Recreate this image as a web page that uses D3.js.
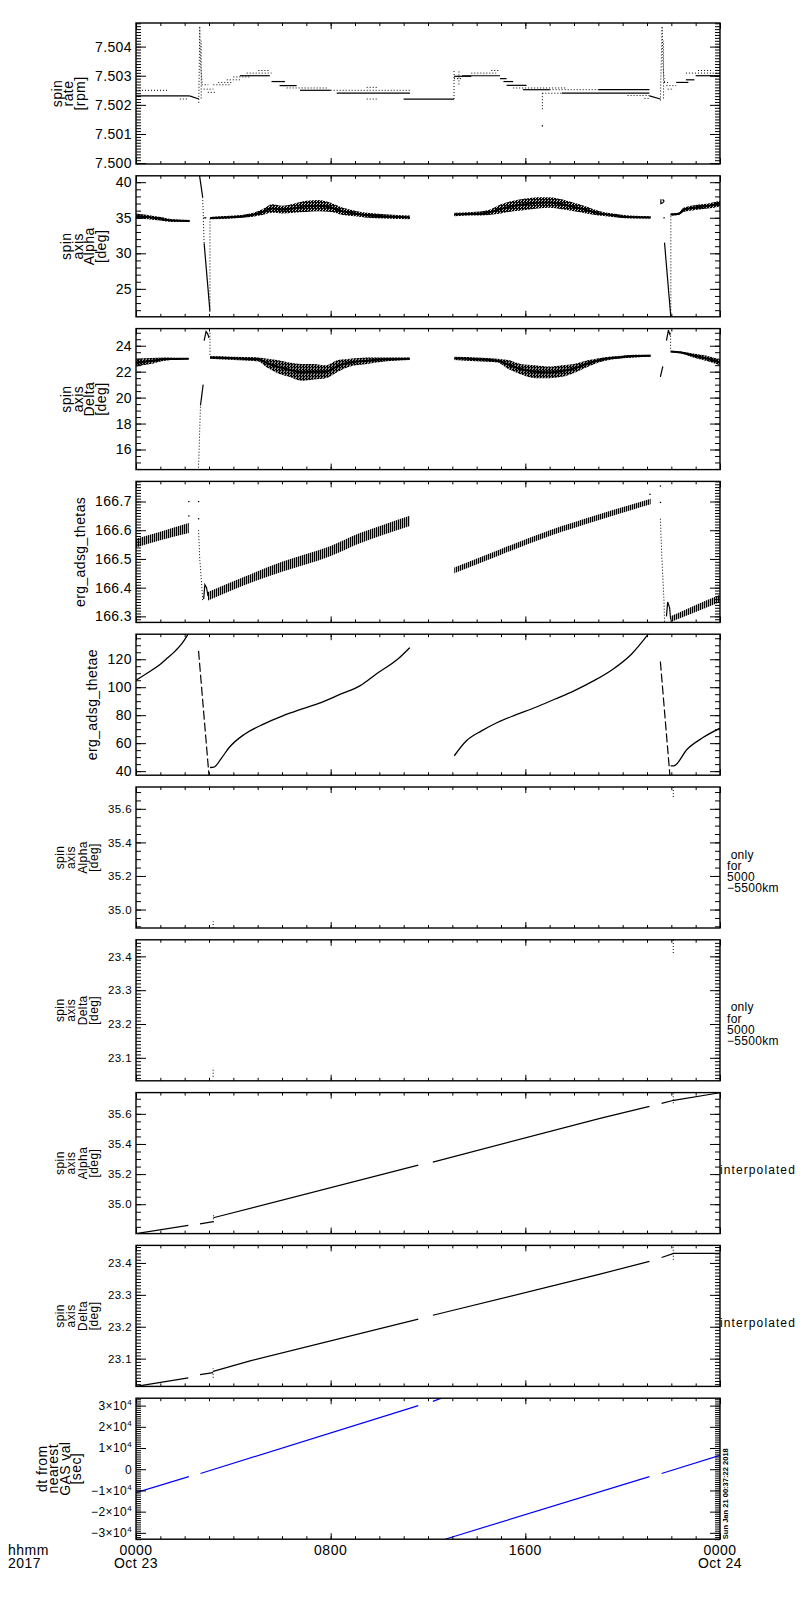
<!DOCTYPE html>
<html>
<head>
<meta charset="utf-8">
<script src="https://cdn.jsdelivr.net/npm/d3@7"></script>
<style>
body{margin:0;background:#fff}
svg{display:block}
text{font-family:"Liberation Sans",Arial,sans-serif;fill:#000}
</style>
</head>
<body>
<svg width="800" height="1600"></svg>
<script>

// ---- axis setup, one entry per panel (top to bottom) ----
var hourRange = [0, 24];
var yDomains = [[7.49997, 7.50481], [21.07, 40.9], [14.45, 25.32], [166.279, 166.770], [37.1, 137.9],
                [34.89, 35.73], [23.032, 23.449], [34.805, 35.741], [23.013, 23.455], [-33000, 33500]];
var majorSteps = [0.001, 5, 2, 0.1, 20, 0.2, 0.1, 0.2, 0.1, 10000];
var minorSteps = [0.0001, 1, 0.5, 0.01, 5, 0.05, 0.01, 0.05, 0.01, 1000];
var tickDecimals = [3, 0, 0, 1, 0, 1, 1, 1, 1, -1];
var yTitles = [["spin", "rate", "[rpm]"], ["spin", "axis", "Alpha", "[deg]"], ["spin", "axis", "Delta", "[deg]"],
               ["erg_adsg_thetas"], ["erg_adsg_thetae"], ["spin", "axis", "Alpha", "[deg]"], ["spin", "axis", "Delta", "[deg]"],
               ["spin", "axis", "Alpha", "[deg]"], ["spin", "axis", "Delta", "[deg]"], ["dt from", "nearest", "GAS val", "[sec]"]];
var sideNotes = [null, null, null, null, null, ["\u00a0only", "for", "5000", "\u22125500km"], ["\u00a0only", "for", "5000", "\u22125500km"],
                 ["interpolated"], ["interpolated"], null];
var minorHours = d3.range(0, 25, 1);
var majorHours = [0, 8, 16, 24];
var hourLabels = ["0000", "0800", "1600", "0000"];
var dayLabels = ["Oct 23", "", "", "Oct 24"];
var stampText = "Sun Jan 21 00:37:22 2018";

// ---- panel 1: spin rate, flat steps [t0, t1, value] ----
var rateSolid = [[0, 2.2, 7.50231], [4.27, 5.5, 7.50300], [5.57, 6.12, 7.50280], [5.9, 6.6, 7.50266], [6.74, 8.0, 7.50250],
  [8.25, 11.26, 7.50240], [11.0, 13.07, 7.50220], [13.07, 13.78, 7.50298], [13.4, 14.96, 7.50300], [14.96, 15.23, 7.50290],
  [15.1, 15.5, 7.50280], [15.23, 16.05, 7.50267], [15.9, 17.0, 7.50252], [19.0, 21.1, 7.50252], [17.5, 21.1, 7.50240],
  [22.2, 22.7, 7.50277], [22.6, 22.95, 7.50286], [23.0, 24, 7.50300]];
var rateDotted = [[0, 1.36, 7.50250], [1.8, 2.1, 7.50220], [2.7, 2.97, 7.50269], [2.78, 3.18, 7.50254], [2.95, 3.3, 7.50243],
  [3.18, 3.86, 7.50269], [3.38, 4.0, 7.50277], [3.73, 4.27, 7.50286], [4.0, 4.69, 7.50296], [4.55, 5.57, 7.50309],
  [5.03, 5.5, 7.50318], [6.19, 7.9, 7.50258], [8.0, 11.26, 7.50250], [9.48, 9.9, 7.50260], [9.48, 9.95, 7.50220],
  [13.07, 13.4, 7.50290], [13.78, 14.8, 7.50309], [14.6, 14.96, 7.50318], [15.5, 17.7, 7.50258], [17.0, 19.0, 7.50252],
  [16.7, 17.5, 7.50240], [20.2, 21.1, 7.50232], [20.9, 21.1, 7.50222], [21.7, 21.9, 7.50277], [21.8, 22.2, 7.50266],
  [21.85, 22.1, 7.50254], [22.6, 23.7, 7.50309], [23.1, 23.7, 7.50318], [23.7, 24, 7.50309]];
var rateSlopes = [[[2.2, 7.50231], [2.58, 7.50220]], [[21.1, 7.50231], [21.55, 7.50220]]];
var rateSpikes = [[[2.58, 7.50207], [2.62, 7.50470], [2.66, 7.50330], [2.72, 7.50275]], [[2.68, 7.50222], [2.68, 7.50420]],
  [[13.07, 7.50220], [13.07, 7.50318]], [[13.27, 7.50270], [13.27, 7.50318]], [[16.7, 7.50240], [16.7, 7.50183]],
  [[21.55, 7.50215], [21.62, 7.50470], [21.66, 7.50330], [21.72, 7.50275]], [[21.68, 7.50222], [21.68, 7.50420]]];
var rateDots = [[16.7, 7.50128]];

// ---- panel 2: spin axis alpha, scatter bands [t, low, high] ----
var alphaBands = [
  [[0, 34.9, 35.6], [0.5, 34.8, 35.4], [1.0, 34.6, 35.1], [1.5, 34.4, 34.8], [2.2, 34.4, 34.7]],
  [[3.05, 34.8, 35.1], [4.0, 34.9, 35.3], [4.7, 35.1, 35.6], [5.2, 35.4, 36.2], [5.6, 35.7, 36.9], [6.0, 35.6, 36.7],
   [6.5, 35.7, 37.0], [7.0, 35.8, 37.4], [7.5, 35.9, 37.5], [8.0, 35.8, 37.1], [8.5, 35.4, 36.4], [9.0, 35.2, 36.0],
   [9.5, 35.0, 35.7], [10.2, 34.9, 35.5], [11.26, 34.8, 35.3]],
  [[13.07, 35.2, 35.7], [13.8, 35.3, 35.8], [14.5, 35.4, 36.1], [15.0, 35.6, 36.9], [15.5, 35.9, 37.4], [16.0, 36.1, 37.7],
   [16.5, 36.3, 37.9], [17.0, 36.4, 37.9], [17.5, 36.2, 37.6], [18.0, 35.9, 37.1], [18.5, 35.6, 36.6], [19.0, 35.3, 36.0],
   [19.6, 35.1, 35.6], [20.3, 34.9, 35.3], [21.15, 34.9, 35.2]],
  [[21.97, 35.3, 35.6], [22.3, 35.4, 35.7], [22.5, 35.8, 36.4], [23.0, 36.1, 36.8], [23.5, 36.3, 37.0], [24, 36.6, 37.4]]];
var alphaLines = [[[2.6, 41.2], [2.74, 37.9]], [[2.8, 31.4], [3.04, 21.8]], [[21.72, 31.5], [21.98, 21.0]],
  [[21.57, 37.6], [21.57, 37.0], [21.65, 37.1], [21.7, 37.35], [21.64, 37.6]]];
var alphaDotLines = [[[2.74, 37.9], [2.8, 31.4]], [[3.04, 34.9], [3.04, 22.2]], [[21.98, 35.2], [21.98, 21.1]]];
var alphaDots = [[2.8, 35.0], [2.86, 35.0], [21.7, 35.0]];

// ---- panel 3: spin axis delta ----
var deltaBands = [
  [[0, 22.4, 23.0], [0.6, 22.6, 23.05], [1.2, 22.85, 23.1], [2.17, 22.95, 23.05]],
  [[3.05, 23.0, 23.2], [4.0, 22.9, 23.15], [5.0, 22.8, 23.1], [5.4, 22.3, 23.0], [5.8, 21.9, 22.9], [6.3, 21.6, 22.7],
   [6.8, 21.3, 22.6], [7.3, 21.4, 22.6], [7.8, 21.5, 22.5], [8.3, 22.0, 22.9], [8.8, 22.4, 23.0], [9.5, 22.6, 23.1],
   [10.3, 22.8, 23.1], [11.25, 22.9, 23.1]],
  [[13.08, 22.9, 23.15], [14.0, 22.8, 23.1], [14.85, 22.7, 23.0], [15.3, 22.2, 22.9], [15.8, 21.8, 22.6], [16.4, 21.5, 22.5],
   [17.0, 21.5, 22.4], [17.5, 21.6, 22.5], [18.0, 21.9, 22.6], [18.6, 22.4, 22.9], [19.2, 22.8, 23.1], [19.8, 23.0, 23.2],
   [20.5, 23.1, 23.3], [21.15, 23.15, 23.3]],
  [[21.97, 23.5, 23.6], [22.4, 23.4, 23.55], [22.9, 23.1, 23.4], [23.5, 22.8, 23.2], [24, 22.5, 22.9]]];
var deltaLines = [[[2.65, 19.4], [2.76, 21.0]], [[2.8, 24.4], [2.88, 25.1], [2.95, 24.9], [3.0, 24.6]],
  [[21.55, 21.6], [21.65, 22.4]], [[21.8, 24.4], [21.88, 25.2], [21.95, 24.8]]];
var deltaDotLines = [[[2.57, 14.6], [2.65, 19.4]], [[3.04, 25.0], [3.04, 23.2]], [[21.97, 25.0], [21.97, 23.6]]];

// ---- panel 4: erg_adsg_thetas ----
var thetasBands = [
  [[0, 166.54, 166.57], [1.0, 166.565, 166.595], [2.17, 166.59, 166.625]],
  [[2.96, 166.355, 166.385], [4.5, 166.41, 166.44], [6.0, 166.455, 166.49], [8.0, 166.51, 166.545], [9.2, 166.555, 166.59],
   [10.2, 166.585, 166.62], [11.25, 166.615, 166.65]],
  [[13.08, 166.45, 166.47], [15, 166.515, 166.535], [17, 166.58, 166.60], [19, 166.635, 166.655], [21.15, 166.69, 166.71]],
  [[21.97, 166.28, 166.30], [23, 166.315, 166.34], [24, 166.35, 166.375]]];
var thetasLines = [[[2.78, 166.36], [2.83, 166.41], [2.9, 166.40], [2.96, 166.37]],
  [[21.8, 166.30], [21.85, 166.35], [21.93, 166.33], [21.97, 166.29]]];
var thetasDotLines = [[[2.57, 166.60], [2.62, 166.5], [2.72, 166.385], [2.74, 166.35]],
  [[21.55, 166.64], [21.6, 166.526], [21.7, 166.35], [21.72, 166.28]]];
var thetasDots = [[2.17, 166.70], [2.17, 166.65], [2.57, 166.70], [2.57, 166.64], [21.12, 166.725], [21.55, 166.754], [21.55, 166.697]];

// ---- panel 5: erg_adsg_thetae ----
var thetaeLines = [
  [[0, 105], [0.5, 110.5], [1.0, 116.4], [1.3, 121], [1.62, 126], [1.9, 131.5], [2.14, 137.9]],
  [[3.04, 42.6], [3.2, 42.8], [3.5, 49], [3.83, 56.9], [4.46, 66.4], [5.24, 73.6], [6.03, 79.5], [6.8, 84.3],
   [7.6, 89], [8.4, 95], [9.2, 101], [9.96, 110.5], [10.75, 120], [11.25, 128.3]],
  [[13.08, 51], [13.58, 61.7], [14.2, 68.8], [14.85, 74.8], [15.6, 80.2], [16.4, 85.5], [17.2, 91.4], [18, 97.4],
   [18.8, 104.5], [19.6, 112.9], [20.36, 123.6], [21.05, 137.9]],
  [[21.97, 43.8], [22.1, 43.8], [22.65, 55.7], [23.3, 64], [24, 70.7]]];
var thetaeDashLines = [[[2.57, 126], [2.96, 45], [3.0, 37.1]], [[21.55, 118.3], [21.94, 37.1]]];

// ---- panels 6, 7: values only for 5000-5500 km ----
var alphaShellMarks = [[[3.17, 34.89], [3.17, 34.93]], [[22.08, 35.67], [22.08, 35.73]]];
var deltaShellMarks = [[[3.17, 23.044], [3.17, 23.071]], [[22.08, 23.41], [22.08, 23.449]]];

// ---- panels 8, 9: interpolated ----
var alphaInterp = [[[0, 34.805], [2.15, 34.86]], [[2.63, 34.87], [3.18, 34.885]], [[3.18, 34.91], [11.6, 35.26]],
  [[12.2, 35.28], [19.07, 35.57], [21.1, 35.65]], [[21.6, 35.67], [22.1, 35.69], [24, 35.74]]];
var alphaInterpMarks = [[[3.18, 34.88], [3.18, 34.93]], [[22.08, 35.67], [22.08, 35.74]]];
var deltaInterp = [[[0, 23.013], [2.15, 23.04]], [[2.63, 23.05], [3.17, 23.056]], [[3.17, 23.06], [4.69, 23.093], [11.6, 23.224]],
  [[12.2, 23.236], [19.07, 23.365], [21.1, 23.405]], [[21.6, 23.417], [22.1, 23.43], [24, 23.43]]];
var deltaInterpMarks = [[[3.17, 23.04], [3.17, 23.07]], [[22.08, 23.41], [22.08, 23.45]]];

// ---- panel 10: dt from nearest GAS value (s) ----
var dtLines = [[[0, -11000], [2.17, -3500]], [[2.65, -2000], [11.6, 30000]], [[12.2, 32000], [12.55, 33500]],
  [[12.7, -33000], [21.1, -3500]], [[21.6, -2000], [24, 6500]]];

// what goes in each panel
var panelData = [
  {solid: rateSlopes.concat(rateSolid.map(flat)), dotted: rateSpikes.concat(rateDotted.map(flat)), dots: rateDots},
  {bands: alphaBands, solid: alphaLines, dotted: alphaDotLines, dots: alphaDots},
  {bands: deltaBands, solid: deltaLines, dotted: deltaDotLines},
  {hatch: thetasBands, solid: thetasLines, dotted: thetasDotLines, dots: thetasDots},
  {smooth: thetaeLines, dashed: thetaeDashLines},
  {dotted: alphaShellMarks},
  {dotted: deltaShellMarks},
  {solid: alphaInterp, dotted: alphaInterpMarks},
  {solid: deltaInterp, dotted: deltaInterpMarks},
  {solid: dtLines, color: "#0000ff"}
];

function flat(s) { return [[s[0], s[2]], [s[1], s[2]]]; }

function stepTicks(dom, step) {
  var lo = Math.min(dom[0], dom[1]), hi = Math.max(dom[0], dom[1]);
  return d3.range(Math.ceil(lo / step - 1e-6), Math.floor(hi / step + 1e-6) + 1).map(function(k){ return k * step; });
}

var svg = d3.select('svg');
svg.append('rect').attr('width', 800).attr('height', 1600).attr('fill', '#fff');
var defs = svg.append('defs');

// scatter texture: 3 of every 4 pixels dark, plus a sparse gap
var speck = defs.append('pattern').attr('id', 'speck').attr('width', 3).attr('height', 3).attr('patternUnits', 'userSpaceOnUse');
speck.append('rect').attr('width', 3).attr('height', 3).attr('fill', '#000');
speck.append('rect').attr('x', 1).attr('y', 1).attr('width', 1).attr('height', 1).attr('fill', '#fff');
speck.append('rect').attr('x', 2).attr('y', 0).attr('width', 1).attr('height', 1).attr('fill', '#fff');
var hatch = defs.append('pattern').attr('id', 'hatch').attr('width', 2).attr('height', 4).attr('patternUnits', 'userSpaceOnUse');
hatch.append('rect').attr('width', 1.3).attr('height', 4);

var left = 136, right = 720, panelH = 141;
var x = d3.scaleLinear().domain(hourRange).range([left, right]);

yDomains.forEach(function(dom, i){
  var top = 23 + 152.8 * i;
  var small = (i >= 5 && i <= 8);
  var fs = small ? 11.5 : 14;
  var g = svg.append('g').attr('transform', 'translate(0,' + top + ')');
  var y = d3.scaleLinear().domain(dom).range([panelH, 0]);
  var d = panelData[i];
  var color = d.color || '#000';

  defs.append('clipPath').attr('id', 'clip' + i)
    .append('rect').attr('x', left).attr('y', 0).attr('width', right - left).attr('height', panelH);
  var plot = g.append('g').attr('clip-path', 'url(#clip' + i + ')');

  var line = d3.line().x(function(p){ return x(p[0]); }).y(function(p){ return y(p[1]); });
  var curve = d3.line().curve(d3.curveMonotoneX).x(function(p){ return x(p[0]); }).y(function(p){ return y(p[1]); });
  var area = d3.area().curve(d3.curveMonotoneX).x(function(p){ return x(p[0]); })
    .y0(function(p){ return y(p[1]); }).y1(function(p){ return y(p[2]); });
  var mid = d3.line().curve(d3.curveMonotoneX).x(function(p){ return x(p[0]); }).y(function(p){ return y((p[1] + p[2]) / 2); });

  plot.selectAll('path.band').data(d.bands || []).enter().append('path')
    .attr('class', 'band').attr('d', area).attr('fill', 'url(#speck)');
  plot.selectAll('path.core').data(d.bands || []).enter().append('path')
    .attr('class', 'core').attr('d', mid).attr('fill', 'none').attr('stroke', '#000').attr('stroke-width', 2);
  plot.selectAll('path.hatch').data(d.hatch || []).enter().append('path')
    .attr('class', 'hatch').attr('d', area).attr('fill', 'url(#hatch)');

  plot.selectAll('path.solid').data(d.solid || []).enter().append('path')
    .attr('class', 'solid').attr('d', line).attr('fill', 'none').attr('stroke', color).attr('stroke-width', 1.2);
  plot.selectAll('path.smooth').data(d.smooth || []).enter().append('path')
    .attr('class', 'smooth').attr('d', curve).attr('fill', 'none').attr('stroke', color).attr('stroke-width', 1.3);
  plot.selectAll('path.dotted').data(d.dotted || []).enter().append('path')
    .attr('class', 'dotted').attr('d', line).attr('fill', 'none').attr('stroke', color)
    .attr('stroke-width', 1).attr('stroke-dasharray', '1,2');
  plot.selectAll('path.dashed').data(d.dashed || []).enter().append('path')
    .attr('class', 'dashed').attr('d', line).attr('fill', 'none').attr('stroke', color)
    .attr('stroke-width', 1.2).attr('stroke-dasharray', '9,3');
  plot.selectAll('rect.dot').data(d.dots || []).enter().append('rect')
    .attr('class', 'dot').attr('x', function(p){ return x(p[0]) - 0.6; }).attr('y', function(p){ return y(p[1]) - 0.6; })
    .attr('width', 1.3).attr('height', 1.3).attr('fill', color);

  // y axes, left with labels and right mirror
  var majors = stepTicks(dom, majorSteps[i]), minors = stepTicks(dom, minorSteps[i]);
  g.append('g').attr('transform', 'translate(' + left + ',0)')
    .call(d3.axisLeft(y).tickValues(minors).tickSize(-5).tickSizeOuter(0).tickFormat(''))
    .call(function(a){ a.select('.domain').remove(); });
  g.append('g').attr('transform', 'translate(' + right + ',0)')
    .call(d3.axisRight(y).tickValues(minors).tickSize(-5).tickSizeOuter(0).tickFormat(''))
    .call(function(a){ a.select('.domain').remove(); });
  g.append('g').attr('transform', 'translate(' + right + ',0)')
    .call(d3.axisRight(y).tickValues(majors).tickSize(-10).tickSizeOuter(0).tickFormat(''))
    .call(function(a){ a.select('.domain').remove(); });
  var fmt = tickDecimals[i] >= 0 ? d3.format('.' + tickDecimals[i] + 'f') : function(v){ return String(v); };
  var yl = g.append('g').attr('transform', 'translate(' + left + ',0)')
    .call(d3.axisLeft(y).tickValues(majors).tickSize(-10).tickSizeOuter(0).tickPadding(4).tickFormat(fmt))
    .call(function(a){ a.select('.domain').remove(); })
    .attr('font-size', i === 9 ? 12 : fs).attr('font-family', null);
  yl.selectAll('text').attr('letter-spacing', 0.4);

  if (i === 9) {
    yl.selectAll('.tick text').each(function(v){
      var t = d3.select(this);
      if (v === 0) { t.text('0'); return; }
      t.text(null);
      t.append('tspan').text((v < 0 ? '\u2212' : '') + Math.abs(v / 10000) + '\u00d710');
      t.append('tspan').attr('dy', -5).attr('font-size', 8).text('4');
    });
  }

  // x ticks on top and bottom edges
  [['axisBottom', panelH], ['axisTop', 0]].forEach(function(s){
    g.append('g').attr('transform', 'translate(0,' + s[1] + ')')
      .call(d3[s[0]](x).tickValues(minorHours).tickSize(-3).tickSizeOuter(0).tickFormat(''))
      .call(function(a){ a.select('.domain').remove(); });
    g.append('g').attr('transform', 'translate(0,' + s[1] + ')')
      .call(d3[s[0]](x).tickValues(majorHours).tickSize(-6).tickSizeOuter(0).tickFormat(''))
      .call(function(a){ a.select('.domain').remove(); });
  });

  g.append('rect').attr('x', left).attr('y', 0).attr('width', right - left).attr('height', panelH)
    .attr('fill', 'none').attr('stroke', '#000').attr('stroke-width', 1.4);

  // y title, stacked rotated lines ending left of the tick labels
  var labelLeft = left + yl.node().getBBox().x;
  var lines = yTitles[i], n = lines.length, cy = panelH / 2;
  lines.forEach(function(txt, j){
    var bx = labelLeft - 10 - (n - 1 - j) * 11.5;
    g.append('text').attr('x', bx).attr('y', cy).attr('text-anchor', 'middle')
      .attr('transform', 'rotate(-90,' + bx + ',' + cy + ')')
      .attr('font-size', small ? 12 : 14).attr('letter-spacing', 0.4).text(txt);
  });

  if (sideNotes[i]) {
    var note = sideNotes[i];
    note.forEach(function(txt, j){
      var one = note.length === 1;
      g.append('text').attr('x', one ? right : right + 7).attr('y', cy + (one ? 11 : 1 + j * 11.3))
        .attr('font-size', 12).attr('letter-spacing', one ? 1.1 : 0.3).text(txt);
    });
  }

  if (i === 9) {
    var bottom = top + panelH;
    majorHours.forEach(function(h, k){
      svg.append('text').attr('x', x(h)).attr('y', bottom + 16).attr('text-anchor', 'middle')
        .attr('font-size', 14).attr('letter-spacing', 0.5).text(hourLabels[k]);
      svg.append('text').attr('x', x(h)).attr('y', bottom + 29).attr('text-anchor', 'middle')
        .attr('font-size', 14).attr('letter-spacing', 0.5).text(dayLabels[k]);
    });
    svg.append('text').attr('x', 8).attr('y', bottom + 16).attr('font-size', 14).attr('letter-spacing', 0.5).text('hhmm');
    svg.append('text').attr('x', 8).attr('y', bottom + 29).attr('font-size', 14).attr('letter-spacing', 0.5).text('2017');
    svg.append('text').attr('x', right + 8).attr('y', bottom)
      .attr('transform', 'rotate(-90,' + (right + 8) + ',' + bottom + ')')
      .attr('font-size', 7.5).attr('font-weight', 'bold').attr('textLength', 91).attr('lengthAdjust', 'spacingAndGlyphs')
      .text(stampText);
  }
});
</script>
</body>
</html>
